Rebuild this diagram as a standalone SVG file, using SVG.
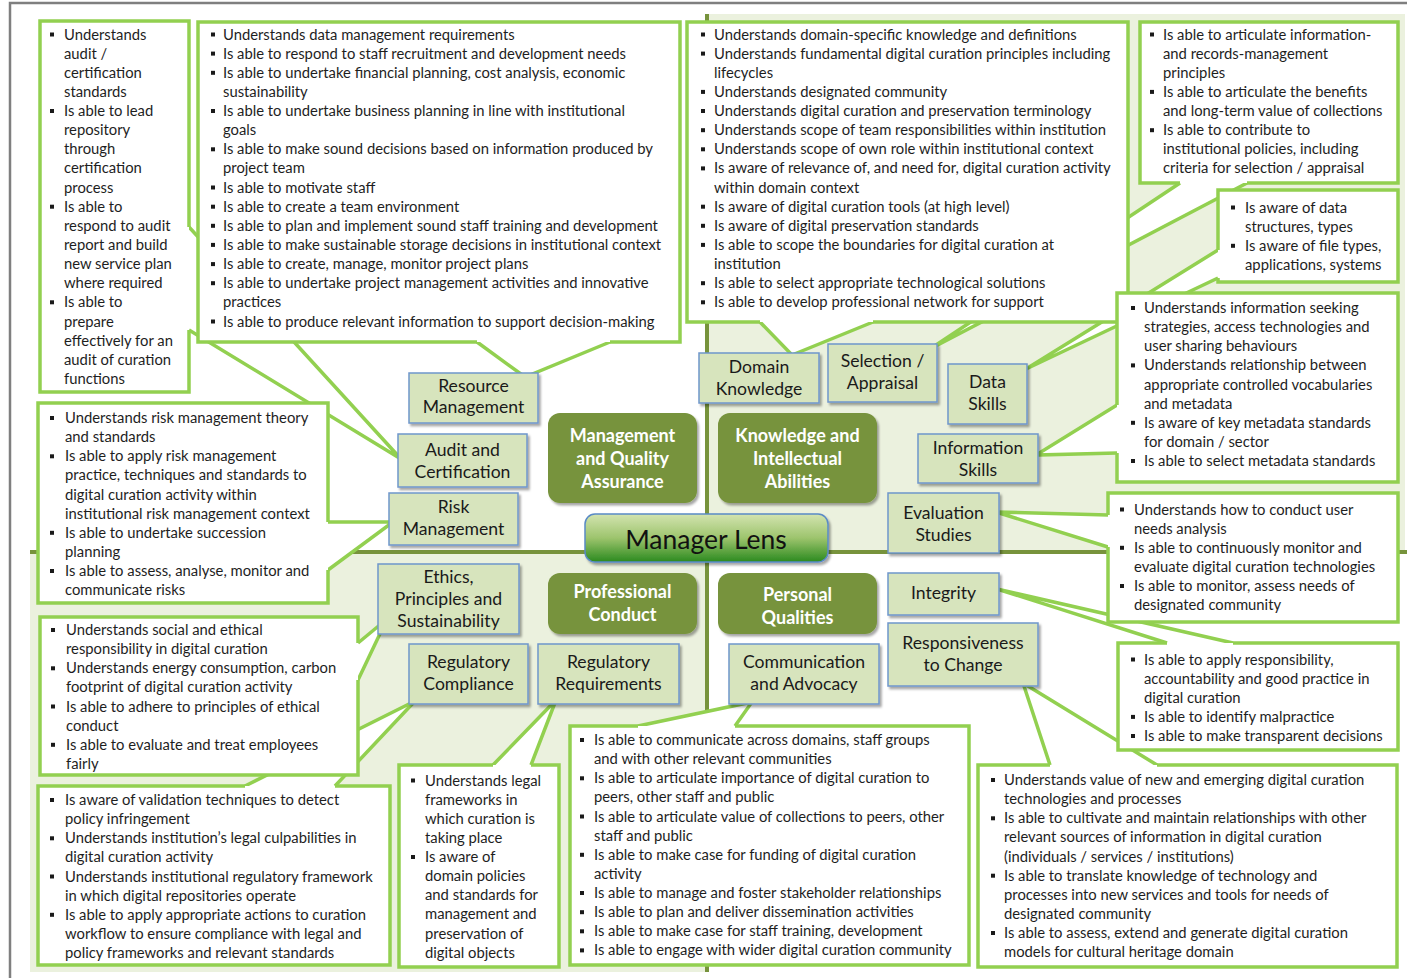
<svg xmlns="http://www.w3.org/2000/svg" width="1407" height="978" viewBox="0 0 1407 978">
<defs>
<linearGradient id="lens" x1="0" y1="0" x2="0" y2="1">
<stop offset="0" stop-color="#d3e4b0"/>
<stop offset="0.5" stop-color="#9dc46d"/>
<stop offset="1" stop-color="#2b8a1e"/>
</linearGradient>
<filter id="sh" x="-10%" y="-10%" width="130%" height="140%">
<feDropShadow dx="2" dy="2.5" stdDeviation="1.3" flood-color="#000" flood-opacity="0.35"/>
</filter>
<rect id="bul" width="4" height="4" fill="#1a1a1a"/>
</defs>
<style>
.bg{fill:#ebf1de}
.q{stroke:#77933c;stroke-width:4;fill:none}
.fr{stroke:#7f7f7f;stroke-width:2.5;fill:none}
.co{fill:#fff;stroke:#92d050;stroke-width:3.5;stroke-linejoin:miter}
.ptr{fill:#fff;stroke:#92d050;stroke-width:3.5;stroke-linejoin:miter}
.t{font-family:Lato,"Liberation Sans",sans-serif;font-size:14.8px;fill:#1e1e1e}
.bx{fill:#d7e4bd;stroke:#6f96cc;stroke-width:1.5;filter:url(#sh)}
.bl{font-family:Lato,"Liberation Sans",sans-serif;font-size:17.6px;fill:#1a1a1a;text-anchor:middle}
.cb{fill:#77933c;filter:url(#sh)}
.cl{font-family:Lato,"Liberation Sans",sans-serif;font-size:18px;font-weight:bold;fill:#fff;text-anchor:middle}
.ml{fill:url(#lens);stroke:#5a8ac6;stroke-width:1.5;filter:url(#sh)}
.mlt{font-family:Lato,"Liberation Sans",sans-serif;font-size:26.5px;fill:#111;text-anchor:middle}
</style>

<g id="background">
<rect x="0" y="0" width="1407" height="978" fill="#fff"/>
<rect class="bg" x="707" y="14" width="698" height="538"/>
<rect class="bg" x="30" y="552" width="677" height="420"/>
<path class="fr" d="M10,978 V3 H1407"/>
<line class="q" x1="707" y1="14" x2="707" y2="972"/>
<line class="q" x1="30" y1="552" x2="1407" y2="552"/>
</g>

<g id="connectors">
<path class="ptr" d="M189,227 L401,459 L189,330"/>
<path class="ptr" d="M610,342 L525,377 L477,342"/>
<path class="ptr" d="M873,322 L792,355 L760,322"/>
<path class="ptr" d="M1247,183 L930,349 L1180,183"/>
<path class="ptr" d="M1218,278 L1026,369 L1218,250"/>
<path class="ptr" d="M1117,453 L1036,455 L1117,405"/>
<path class="ptr" d="M1108,547 L996,512 L1108,515"/>
<path class="ptr" d="M1167,643 L997,589 L1233,643"/>
<path class="ptr" d="M1050,765 L1023,683 L1157,765"/>
<path class="ptr" d="M638,726 L752,702 L735,726"/>
<path class="ptr" d="M493,765 L556,700 L531,765"/>
<path class="ptr" d="M245,786 L415,701 L335,786"/>
<path class="ptr" d="M358,643 L387,619 L358,680"/>
<path class="ptr" d="M328,522 L393,522 L328,570"/>
</g>

<g id="callout-audit">
<path class="co" d="M189,330 V392 H40 V21 H189 V227"/>
<use href="#bul" x="50" y="32.5"/><use href="#bul" x="50" y="109"/><use href="#bul" x="50" y="204.7"/><use href="#bul" x="50" y="300.3"/>
<text class="t"><tspan x="64" y="39.5">Understands</tspan><tspan x="64" y="58.6">audit /</tspan><tspan x="64" y="77.8">certification</tspan><tspan x="64" y="96.9">standards</tspan><tspan x="64" y="116">Is able to lead</tspan><tspan x="64" y="135.2">repository</tspan><tspan x="64" y="154.3">through</tspan><tspan x="64" y="173.4">certification</tspan><tspan x="64" y="192.5">process</tspan><tspan x="64" y="211.7">Is able to</tspan><tspan x="64" y="230.8">respond to audit</tspan><tspan x="64" y="249.9">report and build</tspan><tspan x="64" y="269.1">new service plan</tspan><tspan x="64" y="288.2">where required</tspan><tspan x="64" y="307.3">Is able to</tspan><tspan x="64" y="326.5">prepare</tspan><tspan x="64" y="345.6">effectively for an</tspan><tspan x="64" y="364.7">audit of curation</tspan><tspan x="64" y="383.8">functions</tspan></text>
</g>

<g id="callout-resource">
<path class="co" d="M477,342 H198 V22 H680 V342 H610"/>
<use href="#bul" x="211" y="32.5"/><use href="#bul" x="211" y="51.6"/><use href="#bul" x="211" y="70.8"/><use href="#bul" x="211" y="109"/><use href="#bul" x="211" y="147.3"/><use href="#bul" x="211" y="185.5"/><use href="#bul" x="211" y="204.7"/><use href="#bul" x="211" y="223.8"/><use href="#bul" x="211" y="242.9"/><use href="#bul" x="211" y="262.1"/><use href="#bul" x="211" y="281.2"/><use href="#bul" x="211" y="319.5"/>
<text class="t"><tspan x="223" y="39.5">Understands data management requirements</tspan><tspan x="223" y="58.6">Is able to respond to staff recruitment and development needs</tspan><tspan x="223" y="77.8">Is able to undertake financial planning, cost analysis, economic</tspan><tspan x="223" y="96.9">sustainability</tspan><tspan x="223" y="116">Is able to undertake business planning in line with institutional</tspan><tspan x="223" y="135.2">goals</tspan><tspan x="223" y="154.3">Is able to make sound decisions based on information produced by</tspan><tspan x="223" y="173.4">project team</tspan><tspan x="223" y="192.5">Is able to motivate staff</tspan><tspan x="223" y="211.7">Is able to create a team environment</tspan><tspan x="223" y="230.8">Is able to plan and implement sound staff training and development</tspan><tspan x="223" y="249.9">Is able to make sustainable storage decisions in institutional context</tspan><tspan x="223" y="269.1">Is able to create, manage, monitor project plans</tspan><tspan x="223" y="288.2">Is able to undertake project management activities and innovative</tspan><tspan x="223" y="307.3">practices</tspan><tspan x="223" y="326.5">Is able to produce relevant information to support decision-making</tspan></text>
</g>

<g id="callout-domain">
<path class="co" d="M760,322 H687 V22 H1128 V322 H873"/>
<use href="#bul" x="701" y="32.5"/><use href="#bul" x="701" y="51.6"/><use href="#bul" x="701" y="89.9"/><use href="#bul" x="701" y="109"/><use href="#bul" x="701" y="128.2"/><use href="#bul" x="701" y="147.3"/><use href="#bul" x="701" y="166.4"/><use href="#bul" x="701" y="204.7"/><use href="#bul" x="701" y="223.8"/><use href="#bul" x="701" y="242.9"/><use href="#bul" x="701" y="281.2"/><use href="#bul" x="701" y="300.3"/>
<text class="t"><tspan x="714" y="39.5">Understands domain-specific knowledge and definitions</tspan><tspan x="714" y="58.6">Understands fundamental digital curation principles including</tspan><tspan x="714" y="77.8">lifecycles</tspan><tspan x="714" y="96.9">Understands designated community</tspan><tspan x="714" y="116">Understands digital curation and preservation terminology</tspan><tspan x="714" y="135.2">Understands scope of team responsibilities within institution</tspan><tspan x="714" y="154.3">Understands scope of own role within institutional context</tspan><tspan x="714" y="173.4">Is aware of relevance of, and need for, digital curation activity</tspan><tspan x="714" y="192.5">within domain context</tspan><tspan x="714" y="211.7">Is aware of digital curation tools (at high level)</tspan><tspan x="714" y="230.8">Is aware of digital preservation standards</tspan><tspan x="714" y="249.9">Is able to scope the boundaries for digital curation at</tspan><tspan x="714" y="269.1">institution</tspan><tspan x="714" y="288.2">Is able to select appropriate technological solutions</tspan><tspan x="714" y="307.3">Is able to develop professional network for support</tspan></text>
</g>

<g id="callout-selection">
<path class="co" d="M1180,183 H1140 V22 H1398 V183 H1247"/>
<use href="#bul" x="1150" y="32.5"/><use href="#bul" x="1150" y="89.9"/><use href="#bul" x="1150" y="128.2"/>
<text class="t"><tspan x="1163" y="39.5">Is able to articulate information-</tspan><tspan x="1163" y="58.6">and records-management</tspan><tspan x="1163" y="77.8">principles</tspan><tspan x="1163" y="96.9">Is able to articulate the benefits</tspan><tspan x="1163" y="116">and long-term value of collections</tspan><tspan x="1163" y="135.2">Is able to contribute to</tspan><tspan x="1163" y="154.3">institutional policies, including</tspan><tspan x="1163" y="173.4">criteria for selection / appraisal</tspan></text>
</g>

<g id="callout-data">
<path class="co" d="M1218,250 V190 H1398 V282 H1218 V278"/>
<use href="#bul" x="1231" y="205.5"/><use href="#bul" x="1231" y="243.8"/>
<text class="t"><tspan x="1245" y="212.5">Is aware of data</tspan><tspan x="1245" y="231.6">structures, types</tspan><tspan x="1245" y="250.8">Is aware of file types,</tspan><tspan x="1245" y="269.9">applications, systems</tspan></text>
</g>

<g id="callout-information">
<path class="co" d="M1117,405 V293 H1398 V482 H1117 V453"/>
<use href="#bul" x="1131" y="306"/><use href="#bul" x="1131" y="363.4"/><use href="#bul" x="1131" y="420.8"/><use href="#bul" x="1131" y="459"/>
<text class="t"><tspan x="1144" y="313">Understands information seeking</tspan><tspan x="1144" y="332.1">strategies, access technologies and</tspan><tspan x="1144" y="351.3">user sharing behaviours</tspan><tspan x="1144" y="370.4">Understands relationship between</tspan><tspan x="1144" y="389.5">appropriate controlled vocabularies</tspan><tspan x="1144" y="408.7">and metadata</tspan><tspan x="1144" y="427.8">Is aware of key metadata standards</tspan><tspan x="1144" y="446.9">for domain / sector</tspan><tspan x="1144" y="466">Is able to select metadata standards</tspan></text>
</g>

<g id="callout-evaluation">
<path class="co" d="M1108,515 V493 H1398 V622 H1108 V547"/>
<use href="#bul" x="1120" y="507.5"/><use href="#bul" x="1120" y="545.8"/><use href="#bul" x="1120" y="584"/>
<text class="t"><tspan x="1134" y="514.5">Understands how to conduct user</tspan><tspan x="1134" y="533.6">needs analysis</tspan><tspan x="1134" y="552.8">Is able to continuously monitor and</tspan><tspan x="1134" y="571.9">evaluate digital curation technologies</tspan><tspan x="1134" y="591">Is able to monitor, assess needs of</tspan><tspan x="1134" y="610.2">designated community</tspan></text>
</g>

<g id="callout-integrity">
<path class="co" d="M1233,643 H1398 V750 H1118 V643 H1167"/>
<use href="#bul" x="1131" y="657.5"/><use href="#bul" x="1131" y="714.9"/><use href="#bul" x="1131" y="734"/>
<text class="t"><tspan x="1144" y="664.5">Is able to apply responsibility,</tspan><tspan x="1144" y="683.6">accountability and good practice in</tspan><tspan x="1144" y="702.8">digital curation</tspan><tspan x="1144" y="721.9">Is able to identify malpractice</tspan><tspan x="1144" y="741">Is able to make transparent decisions</tspan></text>
</g>

<g id="callout-responsiveness">
<path class="co" d="M1157,765 H1397 V967 H978 V765 H1050"/>
<use href="#bul" x="991" y="778"/><use href="#bul" x="991" y="816.3"/><use href="#bul" x="991" y="873.7"/><use href="#bul" x="991" y="931"/>
<text class="t"><tspan x="1004" y="785">Understands value of new and emerging digital curation</tspan><tspan x="1004" y="804.1">technologies and processes</tspan><tspan x="1004" y="823.3">Is able to cultivate and maintain relationships with other</tspan><tspan x="1004" y="842.4">relevant sources of information in digital curation</tspan><tspan x="1004" y="861.5">(individuals / services / institutions)</tspan><tspan x="1004" y="880.7">Is able to translate knowledge of technology and</tspan><tspan x="1004" y="899.8">processes into new services and tools for needs of</tspan><tspan x="1004" y="918.9">designated community</tspan><tspan x="1004" y="938">Is able to assess, extend and generate digital curation</tspan><tspan x="1004" y="957.2">models for cultural heritage domain</tspan></text>
</g>

<g id="callout-communication">
<path class="co" d="M735,726 H969 V965 H570 V726 H638"/>
<use href="#bul" x="580" y="738"/><use href="#bul" x="580" y="776.3"/><use href="#bul" x="580" y="814.5"/><use href="#bul" x="580" y="852.8"/><use href="#bul" x="580" y="891"/><use href="#bul" x="580" y="910.2"/><use href="#bul" x="580" y="929.3"/><use href="#bul" x="580" y="948.4"/>
<text class="t"><tspan x="594" y="745">Is able to communicate across domains, staff groups</tspan><tspan x="594" y="764.1">and with other relevant communities</tspan><tspan x="594" y="783.3">Is able to articulate importance of digital curation to</tspan><tspan x="594" y="802.4">peers, other staff and public</tspan><tspan x="594" y="821.5">Is able to articulate value of collections to peers, other</tspan><tspan x="594" y="840.7">staff and public</tspan><tspan x="594" y="859.8">Is able to make case for funding of digital curation</tspan><tspan x="594" y="878.9">activity</tspan><tspan x="594" y="898">Is able to manage and foster stakeholder relationships</tspan><tspan x="594" y="917.2">Is able to plan and deliver dissemination activities</tspan><tspan x="594" y="936.3">Is able to make case for staff training, development</tspan><tspan x="594" y="955.4">Is able to engage with wider digital curation community</tspan></text>
</g>

<g id="callout-requirements">
<path class="co" d="M531,765 H559 V967 H399 V765 H493"/>
<use href="#bul" x="411" y="778.5"/><use href="#bul" x="411" y="855"/>
<text class="t"><tspan x="425" y="785.5">Understands legal</tspan><tspan x="425" y="804.6">frameworks in</tspan><tspan x="425" y="823.8">which curation is</tspan><tspan x="425" y="842.9">taking place</tspan><tspan x="425" y="862">Is aware of</tspan><tspan x="425" y="881.2">domain policies</tspan><tspan x="425" y="900.3">and standards for</tspan><tspan x="425" y="919.4">management and</tspan><tspan x="425" y="938.5">preservation of</tspan><tspan x="425" y="957.7">digital objects</tspan></text>
</g>

<g id="callout-compliance">
<path class="co" d="M335,786 H390 V965 H38 V786 H245"/>
<use href="#bul" x="50" y="798"/><use href="#bul" x="50" y="836.3"/><use href="#bul" x="50" y="874.5"/><use href="#bul" x="50" y="912.8"/>
<text class="t"><tspan x="65" y="805">Is aware of validation techniques to detect</tspan><tspan x="65" y="824.1">policy infringement</tspan><tspan x="65" y="843.3">Understands institution’s legal culpabilities in</tspan><tspan x="65" y="862.4">digital curation activity</tspan><tspan x="65" y="881.5">Understands institutional regulatory framework</tspan><tspan x="65" y="900.7">in which digital repositories operate</tspan><tspan x="65" y="919.8">Is able to apply appropriate actions to curation</tspan><tspan x="65" y="938.9">workflow to ensure compliance with legal and</tspan><tspan x="65" y="958">policy frameworks and relevant standards</tspan></text>
</g>

<g id="callout-ethics">
<path class="co" d="M358,680 V775 H40 V617 H358 V643"/>
<use href="#bul" x="51" y="628"/><use href="#bul" x="51" y="666.3"/><use href="#bul" x="51" y="704.5"/><use href="#bul" x="51" y="742.8"/>
<text class="t"><tspan x="66" y="635">Understands social and ethical</tspan><tspan x="66" y="654.1">responsibility in digital curation</tspan><tspan x="66" y="673.3">Understands energy consumption, carbon</tspan><tspan x="66" y="692.4">footprint of digital curation activity</tspan><tspan x="66" y="711.5">Is able to adhere to principles of ethical</tspan><tspan x="66" y="730.7">conduct</tspan><tspan x="66" y="749.8">Is able to evaluate and treat employees</tspan><tspan x="66" y="768.9">fairly</tspan></text>
</g>

<g id="callout-risk">
<path class="co" d="M328,570 V603 H38 V403 H328 V522"/>
<use href="#bul" x="50" y="416"/><use href="#bul" x="50" y="454.3"/><use href="#bul" x="50" y="530.8"/><use href="#bul" x="50" y="569"/>
<text class="t"><tspan x="65" y="423">Understands risk management theory</tspan><tspan x="65" y="442.1">and standards</tspan><tspan x="65" y="461.3">Is able to apply risk management</tspan><tspan x="65" y="480.4">practice, techniques and standards to</tspan><tspan x="65" y="499.5">digital curation activity within</tspan><tspan x="65" y="518.7">institutional risk management context</tspan><tspan x="65" y="537.8">Is able to undertake succession</tspan><tspan x="65" y="556.9">planning</tspan><tspan x="65" y="576">Is able to assess, analyse, monitor and</tspan><tspan x="65" y="595.2">communicate risks</tspan></text>
</g>

<g id="node-resource-management"><rect class="bx" x="409" y="373" width="129" height="50"/><text class="bl"><tspan x="473.5" y="392">Resource</tspan><tspan x="473.5" y="413">Management</tspan></text></g>
<g id="node-audit-certification"><rect class="bx" x="398" y="434" width="129" height="53"/><text class="bl"><tspan x="462.5" y="456">Audit and</tspan><tspan x="462.5" y="478">Certification</tspan></text></g>
<g id="node-risk-management"><rect class="bx" x="389" y="493" width="129" height="52"/><text class="bl"><tspan x="453.5" y="513">Risk</tspan><tspan x="453.5" y="535">Management</tspan></text></g>
<g id="node-ethics"><rect class="bx" x="378" y="564" width="141" height="70"/><text class="bl"><tspan x="448.5" y="583">Ethics,</tspan><tspan x="448.5" y="605">Principles and</tspan><tspan x="448.5" y="627">Sustainability</tspan></text></g>
<g id="node-regulatory-compliance"><rect class="bx" x="409" y="644" width="119" height="60"/><text class="bl"><tspan x="468.5" y="668">Regulatory</tspan><tspan x="468.5" y="690">Compliance</tspan></text></g>
<g id="node-regulatory-requirements"><rect class="bx" x="538" y="644" width="141" height="60"/><text class="bl"><tspan x="608.5" y="668">Regulatory</tspan><tspan x="608.5" y="690">Requirements</tspan></text></g>
<g id="node-communication"><rect class="bx" x="729" y="644" width="150" height="60"/><text class="bl"><tspan x="804" y="668">Communication</tspan><tspan x="804" y="690">and Advocacy</tspan></text></g>
<g id="node-domain-knowledge"><rect class="bx" x="699" y="353" width="120" height="50"/><text class="bl"><tspan x="759" y="373">Domain</tspan><tspan x="759" y="395">Knowledge</tspan></text></g>
<g id="node-selection-appraisal"><rect class="bx" x="828" y="344" width="109" height="58"/><text class="bl"><tspan x="882.5" y="367">Selection /</tspan><tspan x="882.5" y="389">Appraisal</tspan></text></g>
<g id="node-data-skills"><rect class="bx" x="948" y="364" width="79" height="60"/><text class="bl"><tspan x="987.5" y="388">Data</tspan><tspan x="987.5" y="410">Skills</tspan></text></g>
<g id="node-information-skills"><rect class="bx" x="918" y="434" width="120" height="49"/><text class="bl"><tspan x="978" y="454">Information</tspan><tspan x="978" y="476">Skills</tspan></text></g>
<g id="node-evaluation-studies"><rect class="bx" x="888" y="493" width="111" height="60"/><text class="bl"><tspan x="943.5" y="519">Evaluation</tspan><tspan x="943.5" y="541">Studies</tspan></text></g>
<g id="node-integrity"><rect class="bx" x="888" y="573" width="111" height="42"/><text class="bl"><tspan x="943.5" y="599">Integrity</tspan></text></g>
<g id="node-responsiveness"><rect class="bx" x="888" y="623" width="150" height="63"/><text class="bl"><tspan x="963" y="649">Responsiveness</tspan><tspan x="963" y="671">to Change</tspan></text></g>

<g id="node-management-quality"><rect class="cb" x="548" y="413" width="149" height="90" rx="12"/><text class="cl"><tspan x="622.5" y="442">Management</tspan><tspan x="622.5" y="465">and Quality</tspan><tspan x="622.5" y="488">Assurance</tspan></text></g>
<g id="node-knowledge-intellectual"><rect class="cb" x="718" y="413" width="159" height="90" rx="12"/><text class="cl"><tspan x="797.5" y="442">Knowledge and</tspan><tspan x="797.5" y="465">Intellectual</tspan><tspan x="797.5" y="488">Abilities</tspan></text></g>
<g id="node-professional-conduct"><rect class="cb" x="548" y="573" width="149" height="61" rx="12"/><text class="cl"><tspan x="622.5" y="598">Professional</tspan><tspan x="622.5" y="621">Conduct</tspan></text></g>
<g id="node-personal-qualities"><rect class="cb" x="718" y="573" width="159" height="61" rx="12"/><text class="cl"><tspan x="797.5" y="601">Personal</tspan><tspan x="797.5" y="624">Qualities</tspan></text></g>
<g id="node-manager-lens"><rect class="ml" x="585" y="514" width="243" height="48" rx="10"/><text class="mlt" x="706" y="549">Manager Lens</text></g>
</svg>
